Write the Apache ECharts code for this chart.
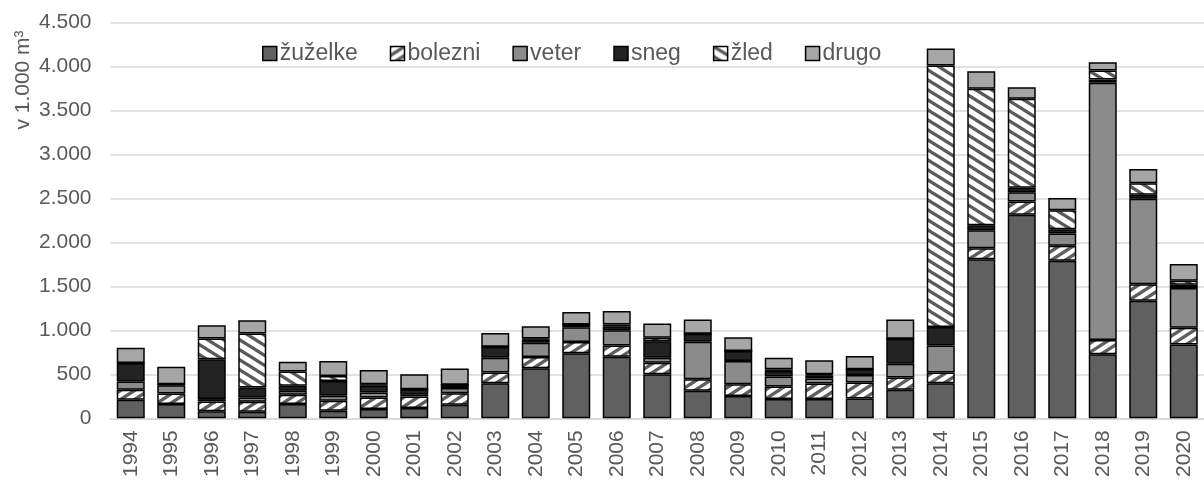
<!DOCTYPE html>
<html>
<head>
<meta charset="utf-8">
<script src="https://cdn.jsdelivr.net/npm/echarts@6/dist/echarts.min.js"></script>
<style>
html,body{margin:0;padding:0;background:#fff;}
#chart{width:1204px;height:480px;}
</style>
</head>
<body>
<div id="chart"></div>
<script>
const years = ['1994','1995','1996','1997','1998','1999','2000','2001','2002','2003','2004','2005','2006','2007','2008','2009','2010','2011','2012','2013','2014','2015','2016','2017','2018','2019','2020'];
const zuzelke = [211,162,79,75,162,87,105,117,154,399,569,738,700,501,312,252,218,218,226,324,399,1807,2315,1792,727,1337,840];
const bolezni = [113,120,113,113,105,113,132,132,132,121,128,128,128,131,132,136,143,177,181,139,121,125,151,170,162,188,188];
const veter   = [94,94,26,49,45,56,56,19,57,169,161,169,174,57,426,263,113,57,86,158,308,207,105,139,2925,971,452];
const sneg    = [207,10,452,113,57,169,76,63,37,124,38,31,45,188,90,113,64,37,64,283,211,56,49,49,38,45,37];
const zled    = [3,0,237,614,162,57,19,0,0,0,10,0,19,38,0,0,19,11,0,0,2971,1551,1013,214,101,132,46];
const drugo   = [174,201,151,150,113,169,162,170,185,158,141,143,154,162,162,158,132,159,151,218,195,200,132,140,94,162,191];
const yTicks = [0,500,1000,1500,2000,2500,3000,3500,4000,4500];

function stripePattern(w, h, color, dir, lw) {
  const c = document.createElement('canvas');
  c.width = w; c.height = h;
  const g = c.getContext('2d');
  g.fillStyle = '#ffffff';
  g.fillRect(0, 0, w, h);
  g.strokeStyle = color;
  g.lineWidth = lw;
  for (let k = -1; k <= 1; k++) {
    g.beginPath();
    if (dir === 'down') {
      g.moveTo(-w, -h + k * h);
      g.lineTo(2 * w, 2 * h + k * h);
    } else {
      g.moveTo(-w, 2 * h + k * h);
      g.lineTo(2 * w, -h + k * h);
    }
    g.stroke();
  }
  return c;
}
const boleznyPat = { image: stripePattern(14, 9, '#5f5f5f', 'up', 3.4), repeat: 'repeat' };
const zledPat = { image: stripePattern(16, 10, '#5a5a5a', 'down', 3.2), repeat: 'repeat' };

const chart = echarts.init(document.getElementById('chart'));
const fontFam = 'Liberation Sans, Arial, sans-serif';
function mk(name, data, color) {
  return {
    name: name, type: 'bar', stack: 'total', data: data, barWidth: 28,
    itemStyle: { color: color, borderColor: '#000', borderWidth: 1.5 },
    emphasis: { disabled: true }
  };
}
chart.setOption({
  animation: false,
  backgroundColor: '#fff',
  textStyle: { fontFamily: fontFam },
  grid: { left: 110.5, top: 22.5, width: 1102, height: 398.5, containLabel: false },
  legend: {
    left: 257, top: 37, itemWidth: 14, itemHeight: 14, itemGap: 32,
    icon: 'rect',
    itemStyle: { borderColor: '#000', borderWidth: 1.5 },
    textStyle: { fontSize: 23, color: '#595959', fontFamily: fontFam, padding: [0, 0, 0, -2] },
    data: ['žuželke','bolezni','veter','sneg','žled','drugo']
  },
  xAxis: {
    type: 'category', data: years,
    axisTick: { show: false },
    axisLine: { lineStyle: { color: '#d9d9d9', width: 1.5 } },
    axisLabel: { rotate: 90, fontSize: 21, color: '#595959', margin: 12, fontFamily: fontFam }
  },
  yAxis: {
    type: 'value', min: 0, max: 4500, interval: 500,
    axisLine: { show: false }, axisTick: { show: false },
    splitLine: { lineStyle: { color: '#d9d9d9', width: 1.5 } },
    axisLabel: {
      fontSize: 21, color: '#595959', margin: 19, fontFamily: fontFam,
      formatter: function (v) { return v.toString().replace(/\B(?=(\d{3})+(?!\d))/g, '.'); }
    }
  },
  graphic: [{
    type: 'text', x: 23, y: 80, rotation: Math.PI / 2,
    style: { text: 'v 1.000 m³', fontSize: 21, fill: '#595959', fontFamily: fontFam, textAlign: 'center', textVerticalAlign: 'middle' }
  }],
  series: [
    mk('žuželke', zuzelke, '#606060'),
    mk('bolezni', bolezni, boleznyPat),
    mk('veter', veter, '#8b8b8b'),
    mk('sneg', sneg, '#232323'),
    mk('žled', zled, zledPat),
    mk('drugo', drugo, '#a6a6a6')
  ]
});
</script>
</body>
</html>
